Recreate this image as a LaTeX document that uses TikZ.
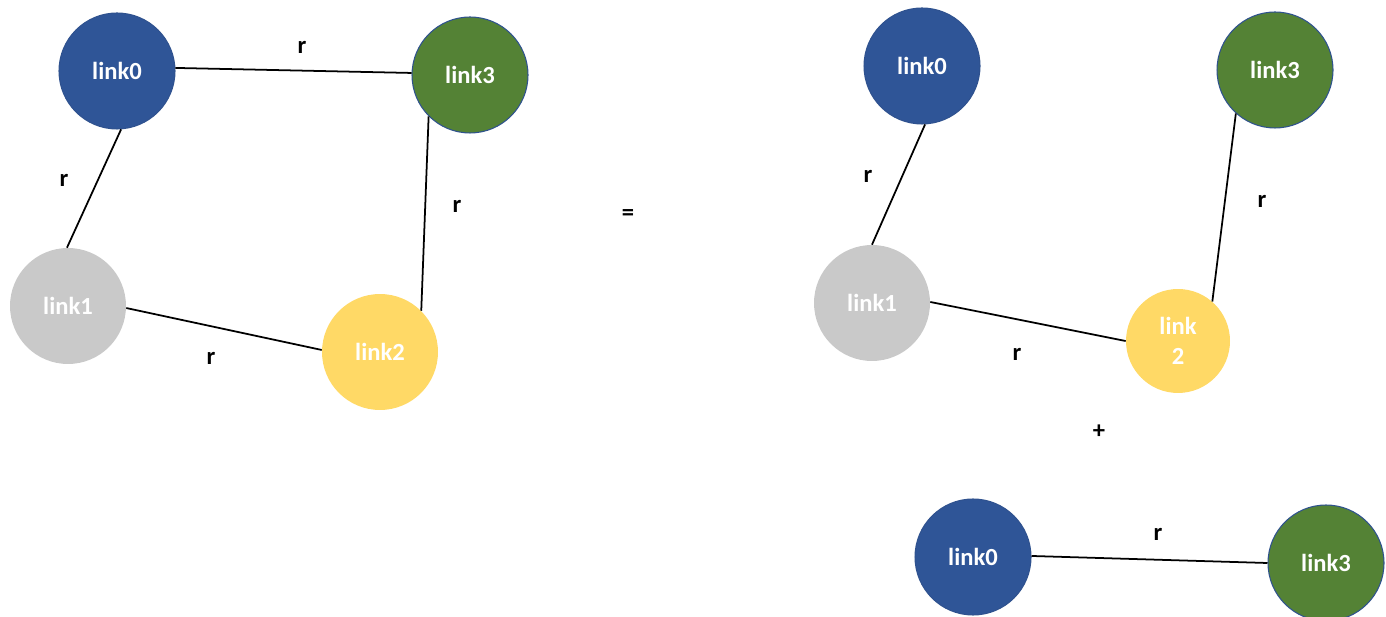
\documentclass[tikz,border=0pt]{standalone}
\usepackage{fontspec}
\setmainfont{Carlito}
\usepackage{xcolor}
\usepackage{tikz}
\definecolor{linkblue}{HTML}{2F5597}
\definecolor{linkgreen}{HTML}{548235}
\definecolor{linkgray}{HTML}{C9C9C9}
\definecolor{linkyellow}{HTML}{FFD966}
\definecolor{rimblue}{HTML}{2F528F}

\begin{document}
\begin{tikzpicture}[x=0.02cm, y=-0.02cm,
  link/.style={circle, minimum size=2.32cm, inner sep=0pt, text=white,
               font=\fontsize{14}{17}\selectfont\bfseries},
  bluelink/.style={link, fill=linkblue, draw=rimblue, line width=0.6pt},
  greenlink/.style={link, fill=linkgreen, draw=rimblue, line width=0.6pt},
  graylink/.style={link, fill=linkgray},
  yellowlink/.style={link, fill=linkyellow},
  rod/.style={line width=1pt},
  lbl/.style={font=\fontsize{14}{17}\selectfont\bfseries}]
  \useasboundingbox (0,0) rectangle (1386,617);
  % closed chain
  \node[bluelink]   (A0) at (117,71)  {link0};
  \node[graylink]   (A1) at (68,306)  {link1};
  \node[yellowlink] (A2) at (380,352) {link2};
  \node[greenlink]  (A3) at (470,75)  {link3};
  \draw[rod] (A0.3) -- (A3.178);
  \draw[rod] (A0.-86) -- (A1.91);
  \draw[rod] (A3.-135) -- (A2.45);
  \draw[rod] (A1.-2) -- (A2.178);
  \node[lbl] (rA03) at (302,47)  {r};
  \node[lbl] (rA01) at (64,180)  {r};
  \node[lbl] (rA32) at (457,206) {r};
  \node[lbl] (rA12) at (211,358) {r};
  \node[lbl] (eq) at (628,215) {=};
  % open chain
  \node[bluelink]   (B0) at (922,66)   {link0};
  \node[graylink]   (B1) at (872,303)  {link1};
  \node[yellowlink, minimum size=2.08cm, align=center] (B2) at (1178,341) {link\\2};
  \node[greenlink]  (B3) at (1275,70)  {link3};
  \draw[rod] (B0.-87) -- (B1.90);
  \draw[rod] (B3.-132) -- (B2.49);
  \draw[rod] (B1.1) -- (B2.180);
  \node[lbl] (rB01) at (868,176)  {r};
  \node[lbl] (rB32) at (1262,201) {r};
  \node[lbl] (rB12) at (1017,354) {r};
  \node[lbl] (plus) at (1099,432) {+};
  % single link
  \node[bluelink]  (C0) at (973,557)  {link0};
  \node[greenlink] (C3) at (1326,563) {link3};
  \draw[rod] (C0.1) -- (C3.180);
  \node[lbl] (rC03) at (1158,534) {r};
\end{tikzpicture}
\end{document}
